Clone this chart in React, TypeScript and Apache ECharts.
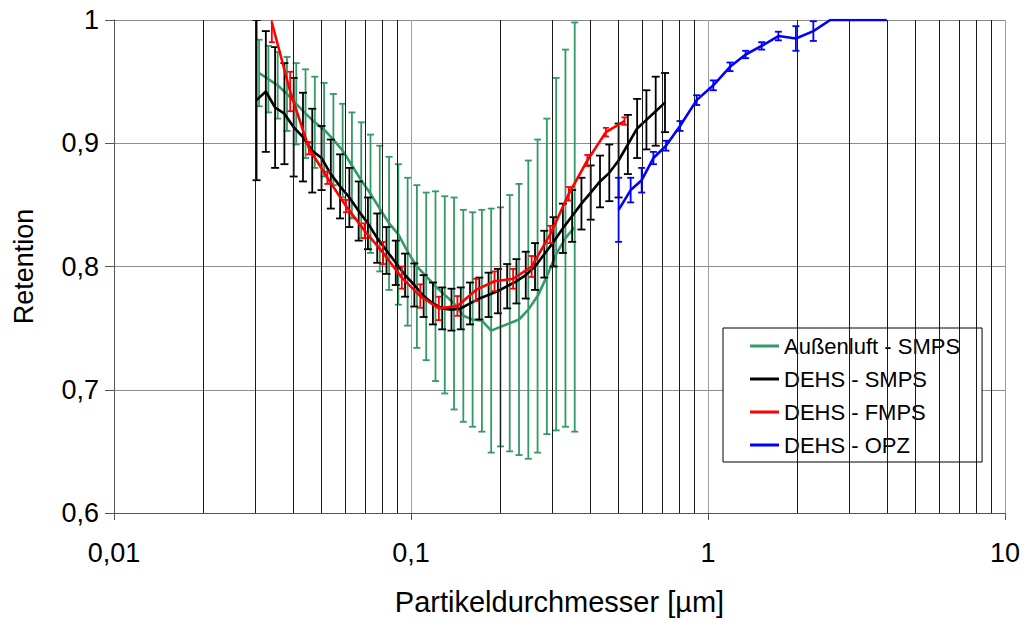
import React, { useEffect, useRef } from "react";
import * as echarts from "echarts";

// ---- Data ----
const seriesNames = ["Außenluft - SMPS", "DEHS - SMPS", "DEHS - FMPS", "DEHS - OPZ"];

// Außenluft - SMPS
const aussenDiameter = [0.0308, 0.0331, 0.03557, 0.03823, 0.04108, 0.04415, 0.04744, 0.05098, 0.05478, 0.05886, 0.06326, 0.06798, 0.07305, 0.0785, 0.08436, 0.09066, 0.09742, 0.10469, 0.11251, 0.1209, 0.12992, 0.13962, 0.15003, 0.16122, 0.17326, 0.18618, 0.20007, 0.21501, 0.23105, 0.24829, 0.26681, 0.28672, 0.30812, 0.33111, 0.35582];
const aussenRetention = [0.957, 0.952, 0.947, 0.94, 0.932, 0.924, 0.917, 0.911, 0.903, 0.894, 0.882, 0.87, 0.859, 0.847, 0.835, 0.826, 0.812, 0.8, 0.792, 0.784, 0.777, 0.77, 0.76, 0.757, 0.756, 0.748, 0.751, 0.754, 0.757, 0.765, 0.776, 0.792, 0.81, 0.823, 0.832];
const aussenError = [0.027, 0.027, 0.027, 0.03, 0.033, 0.036, 0.037, 0.038, 0.037, 0.038, 0.043, 0.047, 0.048, 0.051, 0.054, 0.057, 0.06, 0.066, 0.068, 0.077, 0.08, 0.086, 0.086, 0.087, 0.09, 0.099, 0.097, 0.104, 0.11, 0.121, 0.127, 0.128, 0.143, 0.153, 0.166];

// DEHS - SMPS
const smpsDiameter = [0.0302, 0.03245, 0.03487, 0.03748, 0.04027, 0.04328, 0.04651, 0.04998, 0.05371, 0.05771, 0.06202, 0.06665, 0.07162, 0.07696, 0.08271, 0.08888, 0.09551, 0.10264, 0.1103, 0.11853, 0.12737, 0.13688, 0.14709, 0.15806, 0.16986, 0.18253, 0.19615, 0.21079, 0.22652, 0.24342, 0.26158, 0.2811, 0.30208, 0.32462, 0.34884, 0.37487, 0.40284, 0.4329, 0.4652, 0.49992, 0.53722, 0.57731, 0.62039, 0.66668, 0.71643];
const smpsRetention = [0.935, 0.942, 0.929, 0.924, 0.913, 0.905, 0.894, 0.888, 0.875, 0.865, 0.856, 0.845, 0.835, 0.823, 0.813, 0.803, 0.793, 0.785, 0.776, 0.77, 0.766, 0.765, 0.766, 0.77, 0.774, 0.777, 0.78, 0.784, 0.788, 0.793, 0.8, 0.81, 0.82, 0.831, 0.841, 0.851, 0.86, 0.869, 0.876, 0.886, 0.899, 0.912, 0.919, 0.926, 0.933];
const smpsError = [0.065, 0.049, 0.049, 0.041, 0.04, 0.036, 0.034, 0.026, 0.028, 0.026, 0.024, 0.024, 0.021, 0.02, 0.019, 0.018, 0.0175, 0.0175, 0.017, 0.017, 0.017, 0.017, 0.017, 0.017, 0.017, 0.018, 0.018, 0.018, 0.018, 0.019, 0.019, 0.019, 0.02, 0.02, 0.021, 0.021, 0.022, 0.021, 0.023, 0.03, 0.024, 0.024, 0.024, 0.028, 0.024];

// DEHS - FMPS
const fmpsDiameter = [0.034, 0.0392, 0.0453, 0.0523, 0.0604, 0.0698, 0.0806, 0.0931, 0.1075, 0.1241, 0.1433, 0.1655, 0.1911, 0.2207, 0.2548, 0.2943, 0.3398, 0.3924, 0.4532, 0.5233];
const fmpsRetention = [0.998, 0.942, 0.896, 0.872, 0.849, 0.829, 0.811, 0.791, 0.776, 0.766, 0.768, 0.781, 0.788, 0.79, 0.8, 0.826, 0.859, 0.886, 0.909, 0.918];
const fmpsError = [0.016, 0.016, 0.005, 0.005, 0.005, 0.006, 0.009, 0.009, 0.0095, 0.0095, 0.008, 0.009, 0.008, 0.008, 0.0085, 0.007, 0.0055, 0.0045, 0.0035, 0.003];

// DEHS - OPZ
const opzDiameter = [0.5, 0.549, 0.598, 0.655, 0.722, 0.805, 0.916, 1.042, 1.186, 1.339, 1.516, 1.726, 1.977, 2.263, 2.58, 2.95, 3.37, 4.0];
const opzRetention = [0.846, 0.862, 0.87, 0.888, 0.898, 0.914, 0.935, 0.947, 0.962, 0.972, 0.979, 0.987, 0.985, 0.991, 1.0, 1.0, 1.0, 1.0];
const opzError = [0.026, 0.01, 0.01, 0.005, 0.004, 0.004, 0.004, 0.004, 0.0035, 0.003, 0.003, 0.0035, 0.01, 0.008, 0, 0, 0, 0];

// Axis settings
const xMin = 0.01;
const xMax = 10;
const yMin = 0.6;
const yMax = 1;
const yStep = 0.1;
const minorGridX = [0.02, 0.03, 0.04, 0.05, 0.06, 0.07, 0.08, 0.09, 0.2, 0.3, 0.4, 0.5, 0.6, 0.7, 0.8, 0.9, 2, 3, 4, 5, 6, 7, 8, 9];

const colors = ["#339966", "#000000", "#ff0000", "#0000ff"];
const FONT = "'Liberation Sans', Arial, sans-serif";
const AXIS_FONT_SIZE = 27;
const TITLE_FONT_SIZE = 29;

function fmt(v: number): string {
  const n = Number(v.toPrecision(3));
  return String(n).replace(".", ",");
}

function zipLine(xs: number[], ys: number[]) {
  return xs.map((x, i) => [x, ys[i]]);
}
function zipErr(xs: number[], ys: number[], es: number[]) {
  return xs.map((x, i) => [x, ys[i] - es[i], ys[i] + es[i]]);
}

function errorSeries(name: string, data: number[][], color: string, capW: number, z: number) {
  return {
    name,
    type: "custom",
    clip: true,
    silent: true,
    z,
    encode: { x: 0, y: [1, 2] },
    data,
    renderItem: (_params: any, api: any) => {
      const x = api.value(0);
      const lo = api.value(1);
      const hi = api.value(2);
      if (hi - lo <= 0) return null;
      const pLo = api.coord([x, lo]);
      const pHi = api.coord([x, hi]);
      const hw = capW / 2;
      const style = { stroke: color, lineWidth: 1.8, fill: "none" };
      return {
        type: "group",
        children: [
          { type: "line", shape: { x1: pHi[0], y1: pHi[1], x2: pLo[0], y2: pLo[1] }, style },
          { type: "line", shape: { x1: pHi[0] - hw, y1: pHi[1], x2: pHi[0] + hw, y2: pHi[1] }, style },
          { type: "line", shape: { x1: pLo[0] - hw, y1: pLo[1], x2: pLo[0] + hw, y2: pLo[1] }, style },
        ],
      };
    },
  };
}

function lineSeries(name: string, data: number[][], color: string, z: number) {
  return {
    name,
    type: "line",
    data,
    showSymbol: false,
    symbol: "none",
    z,
    clip: true,
    lineStyle: { color, width: 2.6 },
    itemStyle: { color },
    emphasis: { disabled: true },
  };
}

export default function App() {
  const ref = useRef<HTMLDivElement>(null);
  useEffect(() => {
    if (!ref.current) return;
    const chart = echarts.init(ref.current, undefined, { renderer: "svg" });
    const option: any = {
      animation: false,
      backgroundColor: "#ffffff",
      textStyle: { fontFamily: FONT },
      grid: { left: 114, right: 21, top: 20, bottom: 106, containLabel: false },
      legend: {
        data: seriesNames,
        orient: "vertical",
        left: 723,
        top: 328,
        backgroundColor: "#ffffff",
        borderColor: "#000000",
        borderWidth: 1,
        borderRadius: 0,
        padding: [7, 22, 6, 27],
        itemGap: 11,
        itemWidth: 29,
        itemHeight: 3,
        icon: "rect",
        selectedMode: false,
        textStyle: { fontFamily: FONT, fontSize: 22, color: "#000000" },
      },
      xAxis: {
        type: "log",
        logBase: 10,
        min: xMin,
        max: xMax,
        name: "Partikeldurchmesser [µm]",
        nameLocation: "middle",
        nameGap: 74,
        nameTextStyle: { fontFamily: FONT, fontSize: TITLE_FONT_SIZE, color: "#000000" },
        axisLine: { show: true, onZero: false, lineStyle: { color: "#555555", width: 1 } },
        axisTick: { show: true, inside: false, length: 7, lineStyle: { color: "#555555" } },
        axisLabel: { formatter: (v: number) => fmt(v), fontFamily: FONT, fontSize: AXIS_FONT_SIZE, color: "#000000", margin: 26 },
        splitLine: { show: true, lineStyle: { color: "#a0a0a0", width: 1 } },
        minorTick: { show: false },
        minorSplitLine: { show: false },
      },
      yAxis: {
        type: "value",
        min: yMin,
        max: yMax,
        interval: yStep,
        name: "Retention",
        nameLocation: "middle",
        nameGap: 77,
        nameTextStyle: { fontFamily: FONT, fontSize: AXIS_FONT_SIZE, color: "#000000" },
        axisLine: { show: true, lineStyle: { color: "#555555", width: 1 } },
        axisTick: { show: true, inside: false, length: 9, lineStyle: { color: "#555555" } },
        axisLabel: { formatter: (v: number) => fmt(v), fontFamily: FONT, fontSize: AXIS_FONT_SIZE, color: "#000000", margin: 15 },
        splitLine: { show: true, lineStyle: { color: "#8c8c8c", width: 1 } },
      },
      series: [
        {
          name: "grid-minor",
          type: "line",
          data: [],
          z: 1,
          silent: true,
          markLine: {
            silent: true,
            symbol: ["none", "none"],
            label: { show: false },
            emphasis: { disabled: true },
            lineStyle: { color: "#1a1a1a", width: 1, type: "solid" },
            data: minorGridX.map((v) => ({ xAxis: v })),
          },
        },
        lineSeries(seriesNames[0], zipLine(aussenDiameter, aussenRetention), colors[0], 3),
        errorSeries("err-aussen", zipErr(aussenDiameter, aussenRetention, aussenError), colors[0], 7, 3),
        lineSeries(seriesNames[1], zipLine(smpsDiameter, smpsRetention), colors[1], 4),
        errorSeries("err-smps", zipErr(smpsDiameter, smpsRetention, smpsError), colors[1], 8, 4),
        lineSeries(seriesNames[2], zipLine(fmpsDiameter, fmpsRetention), colors[2], 5),
        errorSeries("err-fmps", zipErr(fmpsDiameter, fmpsRetention, fmpsError), colors[2], 6, 5),
        lineSeries(seriesNames[3], zipLine(opzDiameter, opzRetention), colors[3], 6),
        errorSeries("err-opz", zipErr(opzDiameter, opzRetention, opzError), colors[3], 7, 6),
      ],
    };
    chart.setOption(option);
    return () => chart.dispose();
  }, []);
  return (
    <div
      ref={ref}
      style={{ position: "fixed", left: 0, top: 0, width: 1026, height: 621, background: "#ffffff" }}
    />
  );
}
